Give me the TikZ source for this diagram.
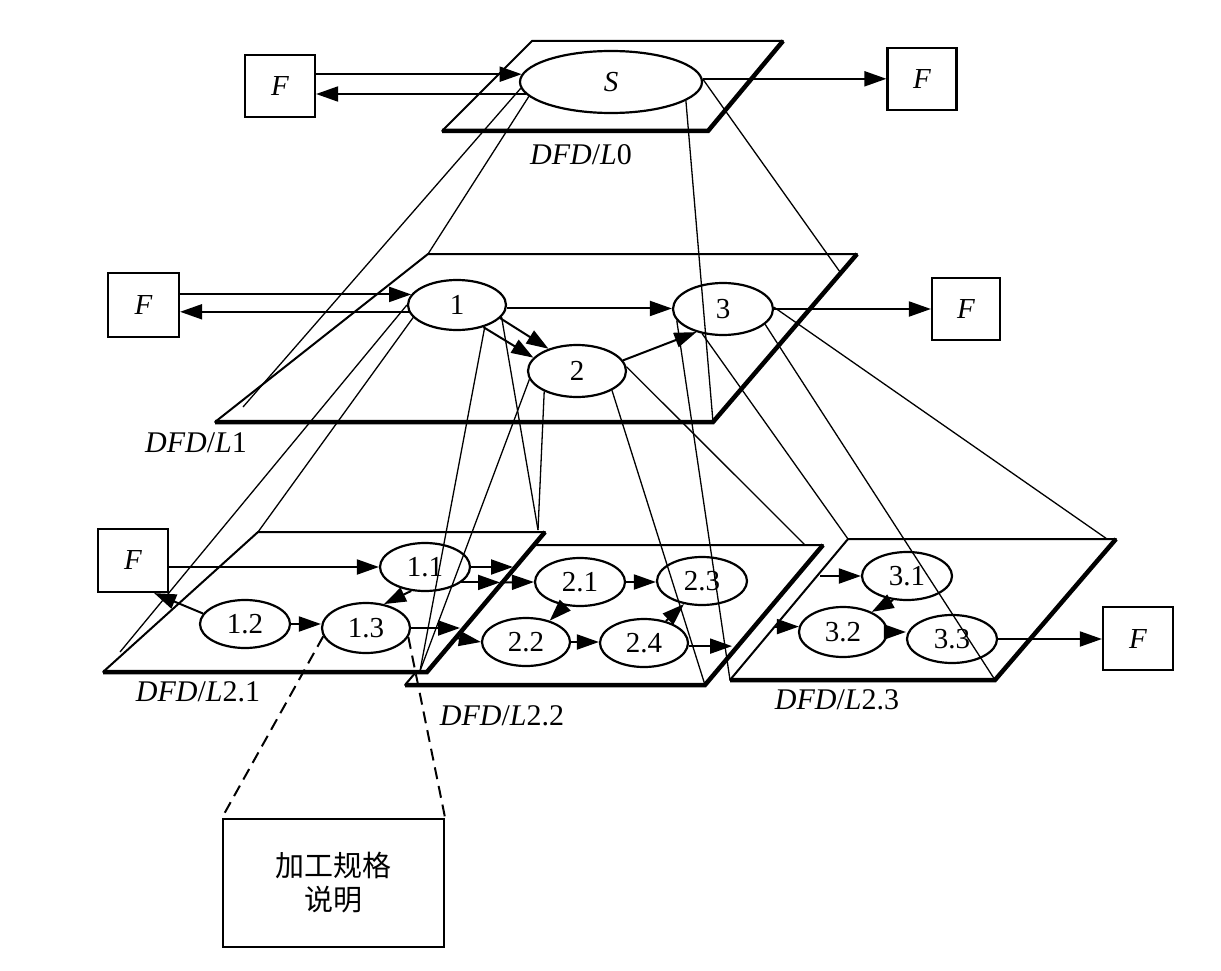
\documentclass[tikz,border=0pt]{standalone}
\usepackage{fontspec}
\setmainfont{Liberation Serif}
\newfontfamily\cjkfont{Noto Sans CJK SC}
\usetikzlibrary{shapes.geometric,arrows.meta,calc}
\begin{document}
\begin{tikzpicture}[x=1pt,y=-1pt,
  every node/.style={font=\fontsize{29}{33}\selectfont},
  proc/.style={draw,ellipse,line width=2.2pt,inner sep=0pt},
  ext/.style={draw,rectangle,line width=2.2pt,inner sep=0pt},
  flow/.style={line width=2pt,-{Triangle[length=22pt,width=15pt]}},
  proj/.style={line width=1.3pt},
  thinedge/.style={line width=2pt,line cap=round},
  thickedge/.style={line width=4.5pt,line join=miter},
  lab/.style={font=\fontsize{30}{34}\selectfont},
  dashline/.style={line width=2pt,dash pattern=on 12pt off 7pt},
]
\useasboundingbox (0,0) rectangle (1221,971);

% ---------- planes ----------
\coordinate (q0a) at (442,131); \coordinate (q0b) at (532,41);
\coordinate (q0c) at (783,41);  \coordinate (q0d) at (708,131);
\draw[thinedge] (q0a) -- (q0b) -- (q0c);
\draw[thickedge] (q0c) -- (q0d) -- (q0a);

\coordinate (q1a) at (215,422); \coordinate (q1b) at (428,254);
\coordinate (q1c) at (857,254); \coordinate (q1d) at (713,422);
\draw[thinedge] (q1a) -- (q1b) -- (q1c);
\draw[thickedge] (q1c) -- (q1d) -- (q1a);

\coordinate (q22a) at (405,685); \coordinate (q22b) at (523,545);
\coordinate (q22c) at (823,545); \coordinate (q22d) at (705,685);
\fill[white] (q22a) -- (q22b) -- (q22c) -- (q22d) -- cycle;
\draw[thinedge] (q22a) -- (q22b) -- (q22c);
\draw[thickedge] (q22c) -- (q22d) -- (q22a);

\coordinate (q21a) at (103,672); \coordinate (q21b) at (258,532);
\coordinate (q21c) at (545,532); \coordinate (q21d) at (427,672);
\fill[white] (q21a) -- (q21b) -- (q21c) -- (q21d) -- cycle;
\draw[thinedge] (q21a) -- (q21b) -- (q21c);
\draw[thickedge] (q21c) -- (q21d) -- (q21a);

\coordinate (q23a) at (730,680); \coordinate (q23b) at (848,539);
\coordinate (q23c) at (1116,539); \coordinate (q23d) at (995,680);
\draw[thinedge] (q23a) -- (q23b) -- (q23c);
\draw[thickedge] (q23c) -- (q23d) -- (q23a);

% ---------- level 0 ----------
\node[ext,minimum width=70pt,minimum height=62pt] (F0) at (280,86) {\textit{F}};
\node[proc,minimum width=182pt,minimum height=62pt] (S) at (611,82) {\textit{S}};
\node[ext,minimum width=69pt,minimum height=62pt] (F0r) at (922,79) {\textit{F}};
\draw[flow] (S.175 -| F0.east) -- (S.175);
\draw[flow] (S.188) -- (S.188 -| F0.east);
\draw[flow] (S.2) -- (S.2 -| F0r.west);
\node[lab] (l0) at (581,155) {\textit{DFD}/\textit{L}0};

% ---------- level 1 ----------
\node[ext,minimum width=71pt,minimum height=64pt] (F1) at (143.5,305) {\textit{F}};
\node[proc,minimum width=98pt,minimum height=50pt] (n1) at (457,305) {1};
\node[proc,minimum width=98pt,minimum height=52pt] (n2) at (577,371) {2};
\node[proc,minimum width=100pt,minimum height=52pt] (n3) at (723,309) {3};
\node[ext,minimum width=68pt,minimum height=62pt] (F1r) at (966,309) {\textit{F}};
\draw[flow] (n1.167 -| F1.east) -- (n1.167);
\draw[flow] (n1.188) -- (n1.188 -| F1.east);
\draw[flow] (n1.356) -- (n1.356 -| n3.west);
\draw[flow] (n3.east) -- (n3.east -| F1r.west);
\draw[flow] (n1.320) -- (n2.163);
\draw[flow] (n1.343) -- (n2.142);
\draw[flow] (n2.13) -- (n3.221);
\node[lab] (l1) at (196,443) {\textit{DFD}/\textit{L}1};

% ---------- level 2.1 ----------
\node[ext,minimum width=70pt,minimum height=63pt] (F2) at (133,560.5) {\textit{F}};
\node[proc,minimum width=90pt,minimum height=48pt] (e11) at (425,567) {1.1};
\node[proc,minimum width=90pt,minimum height=48pt] (e12) at (245,624) {1.2};
\node[proc,minimum width=88pt,minimum height=50pt] (e13) at (366,628) {1.3};
\node[lab] (l21) at (198,692) {\textit{DFD}/\textit{L}2.1};

% ---------- level 2.2 ----------
\node[proc,minimum width=90pt,minimum height=48pt] (e21) at (580,582) {2.1};
\node[proc,minimum width=90pt,minimum height=48pt] (e23) at (702,581) {2.3};
\node[proc,minimum width=88pt,minimum height=48pt] (e22) at (526,642) {2.2};
\node[proc,minimum width=88pt,minimum height=48pt] (e24) at (644,643) {2.4};
\node[lab] (l22) at (502,716) {\textit{DFD}/\textit{L}2.2};

% ---------- level 2.3 ----------
\node[proc,minimum width=90pt,minimum height=48pt] (e31) at (907,576) {3.1};
\node[proc,minimum width=88pt,minimum height=50pt] (e32) at (843,632) {3.2};
\node[proc,minimum width=90pt,minimum height=48pt] (e33) at (952,639) {3.3};
\node[ext,minimum width=70pt,minimum height=63pt] (F3) at (1138,638.5) {\textit{F}};
\node[lab] (l23) at (837,700) {\textit{DFD}/\textit{L}2.3};

% ---------- level 2 flows ----------
\coordinate (a1) at (513,567);
\coordinate (b1) at (500,582);
\coordinate (d1) at (460,628);
\coordinate (d2) at (456,638);
\coordinate (g1) at (732,646);
\coordinate (h1) at (820,576);
\coordinate (h2) at (775,627);
\draw[flow] (e11.west -| F2.east) -- (e11.west);
\draw[flow] (e12.166) -- ([xshift=-15pt]F2.south east);
\draw[flow] (e12.east) -- (e12.east -| e13.west);
\draw[flow] (e11.240) -- (e13.53);
\draw[flow] (e11.east) -- (e11.east -| a1);
\draw[flow] (e11.337) -- (e11.337 -| b1);
\draw[flow] (e11.337 -| b1) -- (e21.west);
\draw[flow] (e13.east) -- (e13.east -| d1);
\draw[flow] (d2) -- (e22.west);
\draw[flow] (e21.east) -- (e21.east -| e23.west);
\draw[flow] (e21.237) -- (e22.42);
\draw[flow] (e22.east) -- (e22.east -| e24.west);
\draw[flow] (e24.45) -- (e23.232);
\draw[flow] (e24.356) -- (e24.356 -| g1);
\draw[flow] (e31.west -| h1) -- (e31.west);
\draw[flow] (e32.173 -| h2) -- (e32.173);
\draw[flow] (e31.240) -- (e32.35);
\draw[flow] (e32.east) -- (e32.east -| e33.west);
\draw[flow] (e33.east) -- (e33.east -| F3.west);

% ---------- specification box ----------
\node[ext,minimum width=221pt,minimum height=128pt,align=center,
      font=\cjkfont\fontsize{29}{34}\selectfont] (spec) at (333.5,883) {加工规格\\说明};
\draw[dashline] (e13.191) -- (spec.north west);
\draw[dashline] (e13.348) -- (spec.north east);

% ---------- projection lines ----------
\coordinate (p1) at (243,407);
\coordinate (p3) at (840,272);
\draw[proj] (S.184) -- (p1);
\draw[proj] (S.190) -- (q1b);
\draw[proj] (S.2) -- (p3);
\draw[proj] (S.346) -- (q1d);

\coordinate (a2) at (120,652);
\coordinate (cb) at (420,671);
\coordinate (ct) at (538,530);
\coordinate (f1) at (805,545);
\coordinate (k1) at (1107,539);
\draw[proj] (n1.180) -- (a2);
\draw[proj] (n1.196) -- (q21b);
\draw[proj] (n1.322) -- (cb);
\draw[proj] (n1.345) -- (ct);
\draw[proj] (n2.212) -- (ct);
\draw[proj] (n2.190) -- (cb);
\draw[proj] (n2.5) -- (f1);
\draw[proj] (n2.331) -- (q22d);
\draw[proj] (n3.194) -- (q23a);
\draw[proj] (n3.230) -- (q23b);
\draw[proj] (n3.340) -- (q23d);
\draw[proj] (n3.2) -- (k1);
\end{tikzpicture}
\end{document}
